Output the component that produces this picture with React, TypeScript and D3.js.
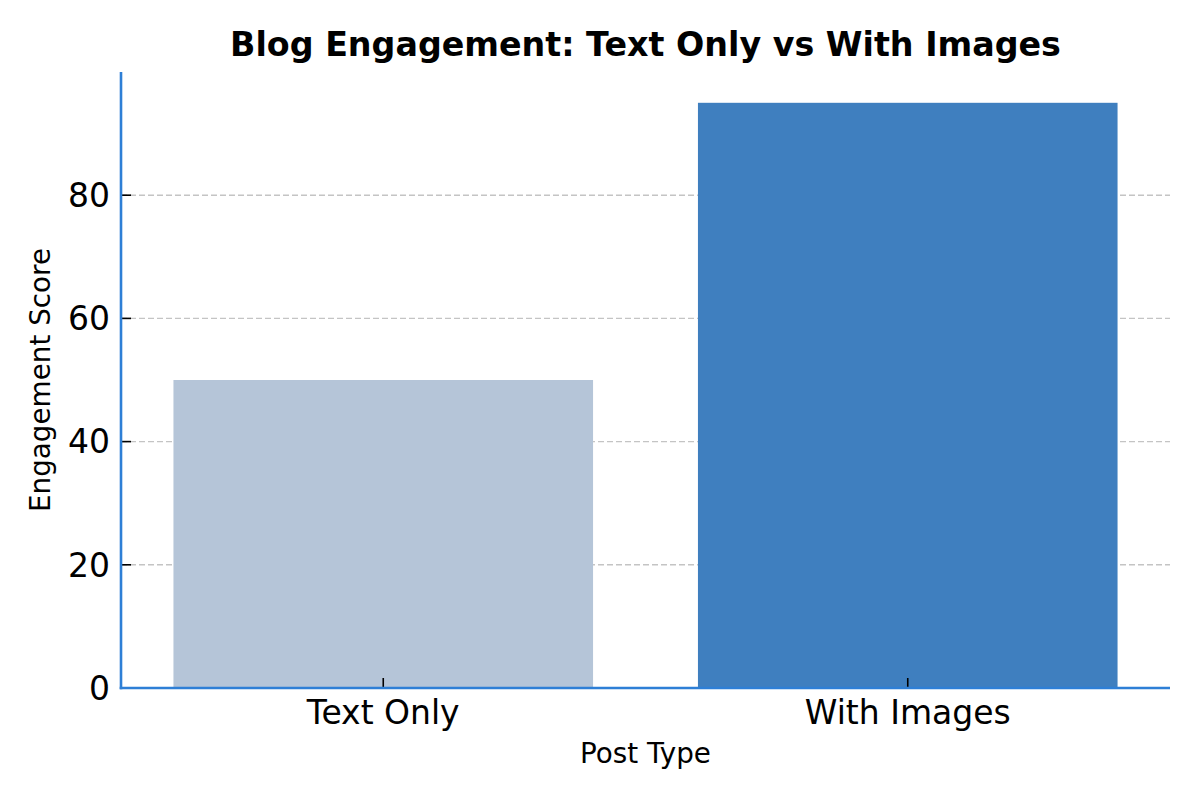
import React from "react";
import * as d3 from "d3";

const categories = ["Text Only", "With Images"];
const values = [50, 95];
const barColors = ["#B5C5D8", "#3F7FBF"];
const yTicks = [0, 20, 40, 60, 80];
const title = "Blog Engagement: Text Only vs With Images";
const xLabel = "Post Type";
const yLabel = "Engagement Score";

export default function App() {
  const W = 1200, H = 800;
  const left = 121, right = 1170, top = 72, bottom = 688;
  const x = d3.scaleBand<string>().domain(categories).range([left, right]).paddingInner(0.2).paddingOuter(0.1);
  const y = d3.scaleLinear().domain([0, 100]).range([bottom, top]);
  const font = "DejaVu Sans, sans-serif";
  const spine = "#2E7FD6";
  return (
    <svg width={W} height={H} style={{ position: "absolute", left: 0, top: 0, background: "#fff" }} fontFamily={font}>
      <rect x={0} y={0} width={W} height={H} fill="#fff" />
      {yTicks.map((t) => (
        <line key={"g" + t} x1={left} x2={right} y1={y(t)} y2={y(t)} stroke="#c4c4c4" strokeWidth={1.4} strokeDasharray="6,3" />
      ))}
      {categories.map((c, i) => (
        <rect key={c} x={x(c)!} width={x.bandwidth()} y={y(values[i])} height={y(0) - y(values[i])} fill={barColors[i]} />
      ))}
      {yTicks.map((t) => (
        <g key={"t" + t}>
          <line x1={left} x2={left + 10} y1={y(t)} y2={y(t)} stroke="#000" strokeWidth={1.6} />
          <text x={110} y={y(t)} dy="0.36em" textAnchor="end" fontSize={33}>{t}</text>
        </g>
      ))}
      {categories.map((c) => {
        const cx = x(c)! + x.bandwidth() / 2;
        return (
          <g key={"xt" + c}>
            <line x1={cx} x2={cx} y1={bottom} y2={bottom - 10} stroke="#000" strokeWidth={1.6} />
            <text x={cx} y={723.5} textAnchor="middle" fontSize={33}>{c}</text>
          </g>
        );
      })}
      <line x1={left} x2={left} y1={top} y2={bottom + 1.3} stroke={spine} strokeWidth={2.6} />
      <line x1={left - 1.3} x2={right} y1={bottom} y2={bottom} stroke={spine} strokeWidth={2.6} />
      <text x={(left + right) / 2} y={56} textAnchor="middle" fontSize={33.3} fontWeight="bold">{title}</text>
      <text x={(left + right) / 2} y={763} textAnchor="middle" fontSize={27.8}>{xLabel}</text>
      <text transform={`translate(50,${(top + bottom) / 2}) rotate(-90)`} textAnchor="middle" fontSize={27.8}>{yLabel}</text>
    </svg>
  );
}
